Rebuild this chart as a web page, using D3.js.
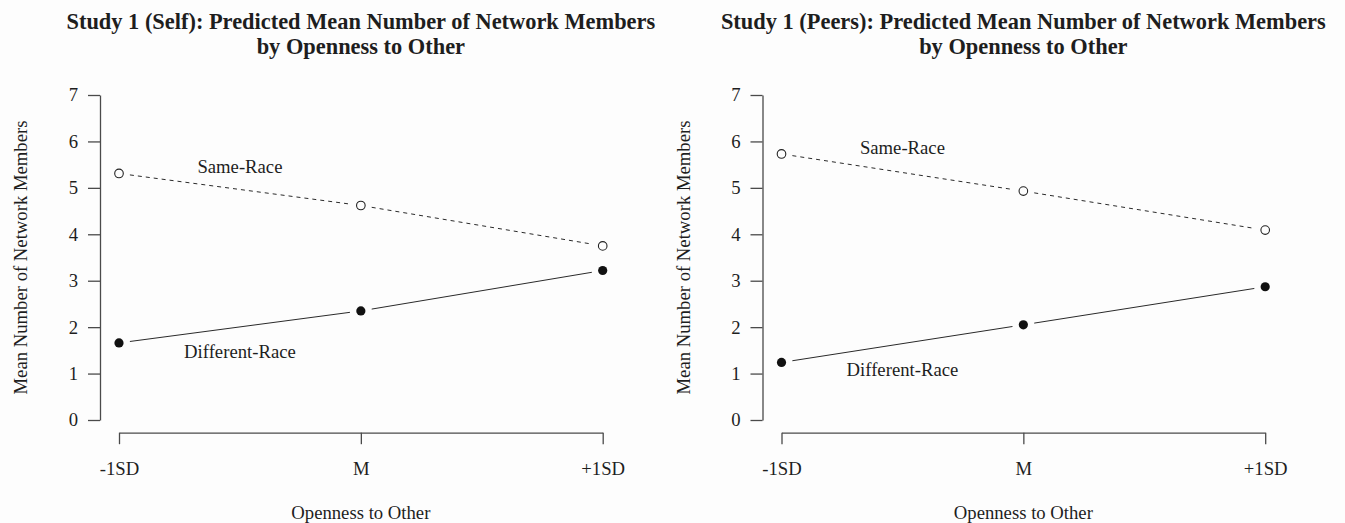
<!DOCTYPE html>
<html>
<head>
<meta charset="utf-8">
<script src="https://cdn.jsdelivr.net/npm/d3@7"></script>
<style>
  html, body { margin: 0; padding: 0; background: #fdfdfd; }
  svg { display: block; }
  text { font-family: "Liberation Serif", "Times New Roman", serif; fill: #1e1e1e; }
</style>
</head>
<body>
<svg id="chart" width="1345" height="523"></svg>
<script>
// Moderator levels on the x axis
const levels = ["-1SD", "M", "+1SD"];
const yTicks = [0, 1, 2, 3, 4, 5, 6, 7];

// Study 1 (Self) predicted means
const selfSame = [5.31, 4.62, 3.75];
const selfDiff = [1.66, 2.35, 3.22];

// Study 1 (Peers) predicted means
const peersSame = [5.73, 4.93, 4.09];
const peersDiff = [1.24, 2.05, 2.87];

// Series labels, placed in data units (y value of label centre)
const selfLabelY = [5.45, 1.47];
const peersLabelY = [5.86, 1.08];

const panels = [
  { title: ["Study 1 (Self): Predicted Mean Number of Network Members", "by Openness to Other"],
    same: selfSame, diff: selfDiff, labelY: selfLabelY, dx: 0 },
  { title: ["Study 1 (Peers): Predicted Mean Number of Network Members", "by Openness to Other"],
    same: peersSame, diff: peersDiff, labelY: peersLabelY, dx: 662.5 }
];

const svg = d3.select("#chart");
const fs = 18.7;
const axisColor = "#4a4a4a";

panels.forEach(p => {
  const g = svg.append("g").attr("transform", `translate(${p.dx},0)`);

  const x = d3.scalePoint().domain(levels).range([119, 602.7]).padding(0);
  const y = d3.scaleLinear().domain([0, 7]).range([420, 95]);
  const cx = (x.range()[0] + x.range()[1]) / 2;

  // Title
  const t = g.append("text")
    .attr("text-anchor", "middle")
    .style("font-weight", "bold")
    .style("font-size", "22.4px");
  p.title.forEach((line, i) => {
    t.append("tspan").attr("x", cx).attr("y", 29 + i * 25).text(line);
  });

  // Y axis
  const ya = g.append("g")
    .attr("transform", "translate(100,0)")
    .call(d3.axisLeft(y).tickValues(yTicks).tickFormat(d3.format("d"))
      .tickSize(12).tickSizeOuter(0).tickPadding(10));
  ya.selectAll("path, line").attr("stroke", axisColor).attr("stroke-width", 1.3);
  ya.selectAll("text").style("font-size", fs + "px").style("font-family", "Liberation Serif").attr("fill", "#1e1e1e");

  // X axis
  const xa = g.append("g")
    .attr("transform", "translate(0,432.7)")
    .call(d3.axisBottom(x).tickSize(11.5).tickSizeOuter(0).tickPadding(17.5));
  xa.selectAll("path, line").attr("stroke", axisColor).attr("stroke-width", 1.3);
  xa.selectAll("text").style("font-size", fs + "px").style("font-family", "Liberation Serif").attr("fill", "#1e1e1e");

  // Axis titles
  g.append("text")
    .attr("x", cx).attr("y", 519)
    .attr("text-anchor", "middle")
    .style("font-size", fs + "px")
    .text("Openness to Other");
  g.append("text")
    .attr("transform", `translate(27,${y(3.5)}) rotate(-90)`)
    .attr("text-anchor", "middle")
    .style("font-size", fs + "px")
    .text("Mean Number of Network Members");

  // Lines between points, stopping short of each marker
  const gap = 11;
  function segments(vals) {
    const pts = vals.map((v, i) => [x(levels[i]), y(v)]);
    const segs = [];
    for (let i = 0; i < pts.length - 1; i++) {
      const [x1, y1] = pts[i], [x2, y2] = pts[i + 1];
      const len = Math.hypot(x2 - x1, y2 - y1);
      const ux = (x2 - x1) / len, uy = (y2 - y1) / len;
      segs.push([x1 + ux * gap, y1 + uy * gap, x2 - ux * gap, y2 - uy * gap]);
    }
    return segs;
  }

  g.selectAll(".seg-same").data(segments(p.same)).join("line")
    .attr("x1", d => d[0]).attr("y1", d => d[1])
    .attr("x2", d => d[2]).attr("y2", d => d[3])
    .attr("stroke", "#2a2a2a").attr("stroke-width", 1)
    .attr("stroke-dasharray", "4,4");

  g.selectAll(".seg-diff").data(segments(p.diff)).join("line")
    .attr("x1", d => d[0]).attr("y1", d => d[1])
    .attr("x2", d => d[2]).attr("y2", d => d[3])
    .attr("stroke", "#2a2a2a").attr("stroke-width", 1);

  // Markers
  g.selectAll(".pt-same").data(p.same).join("circle")
    .attr("cx", (d, i) => x(levels[i])).attr("cy", d => y(d))
    .attr("r", 4.3).attr("fill", "#fdfdfd").attr("stroke", "#222").attr("stroke-width", 1.1);

  g.selectAll(".pt-diff").data(p.diff).join("circle")
    .attr("cx", (d, i) => x(levels[i])).attr("cy", d => y(d))
    .attr("r", 4.6).attr("fill", "#111");

  // Series labels
  const lx = (x(levels[0]) + x(levels[1])) / 2;
  g.append("text").attr("x", lx).attr("y", y(p.labelY[0]))
    .attr("dy", "0.33em").attr("text-anchor", "middle")
    .style("font-size", fs + "px").text("Same-Race");
  g.append("text").attr("x", lx).attr("y", y(p.labelY[1]))
    .attr("dy", "0.33em").attr("text-anchor", "middle")
    .style("font-size", fs + "px").text("Different-Race");
});
</script>
</body>
</html>
